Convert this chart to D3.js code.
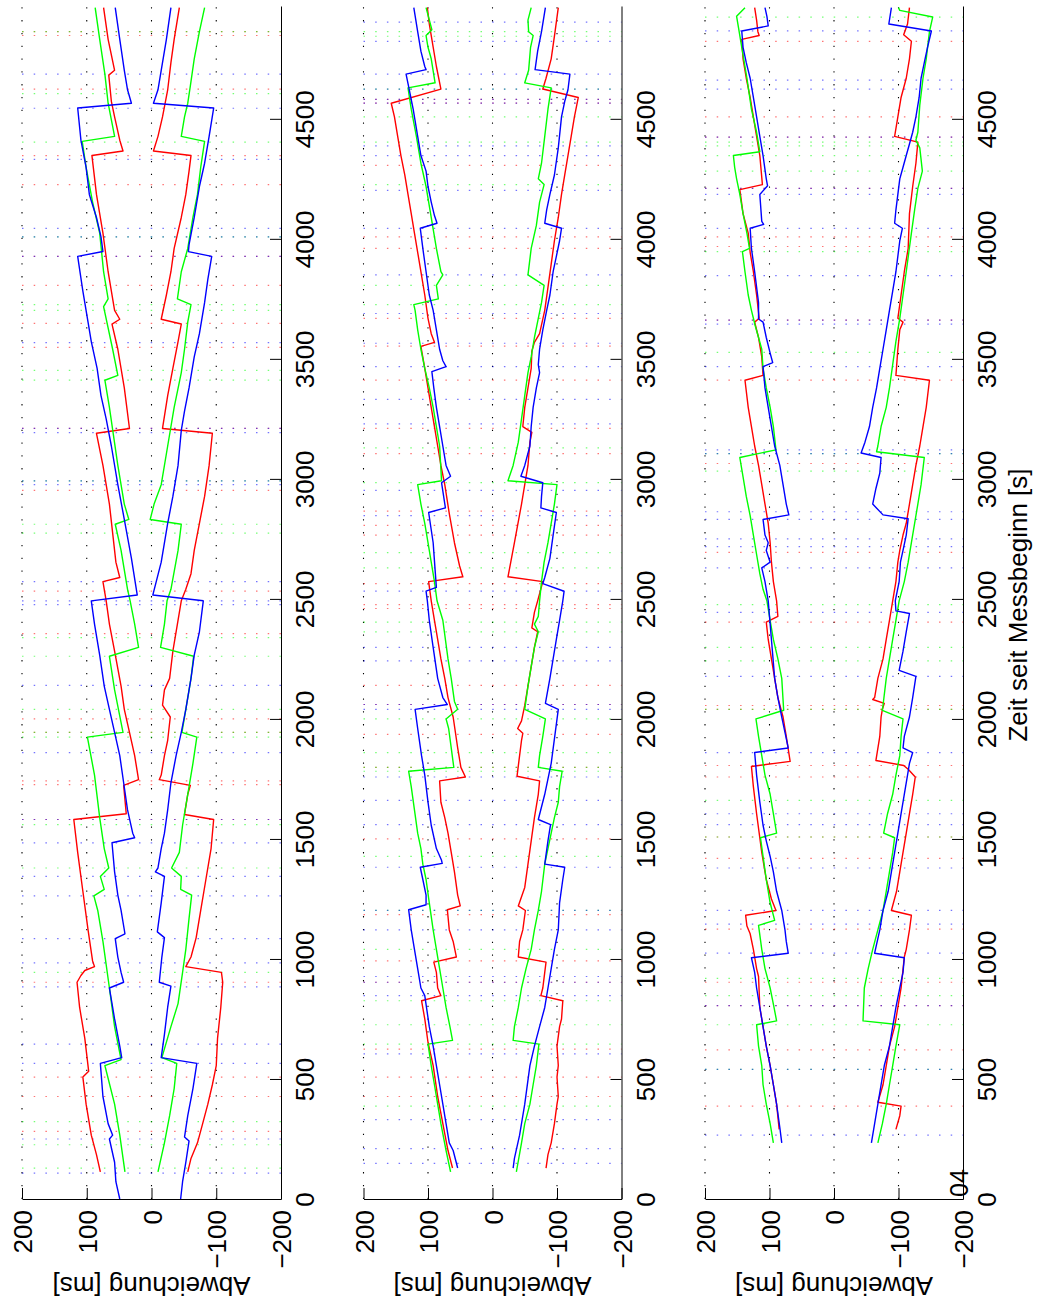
<!DOCTYPE html>
<html><head><meta charset="utf-8">
<script src="https://cdn.jsdelivr.net/npm/d3@7"></script>
<style>body{margin:0;background:#fff}svg{display:block}</style>
</head><body><svg id="c" width="1039" height="1305"></svg>
<script>
// ---------- tick labels / texts ----------
const timeTicks = [0,500,1000,1500,2000,2500,3000,3500,4000,4500];
const valueTicks = [200,100,0,-100,-200];
const valueTickLabels = ["200","100","0","\u2212100","\u2212200"];
const yLabel = "Abweichung [ms]";
const xLabel = "Zeit seit Messbeginn [s]";
const strayLabel = "04";

// ---------- subplot 1 : [time s, deviation ms] ----------
const s1BlueUp = [[0,49],[72,55],[153,57],[250,65],[266,60],[314,67],[427,75],[565,79],[589,46],[637,49],[750,57],[879,65],[903,43],[944,47],[1008,52],[1085,56],[1105,41],[1202,47],[1266,52],[1363,57],[1484,61],[1505,26],[1524,29],[1621,37],[1734,43],[1847,49],[1944,57],[2040,65],[2137,73],[2266,80],[2395,88],[2492,93],[2516,22],[2669,31],[2831,42],[2976,52],[3137,62],[3250,70],[3347,78],[3460,84],[3572,93],[3653,98],[3782,106],[3927,114],[3947,75],[4008,78],[4089,85],[4185,96],[4298,101],[4411,109],[4545,114],[4565,31],[4621,37],[4702,42],[4831,49],[4963,56]];
const s1BlueLo = [[0,-45],[72,-48],[153,-53],[242,-58],[258,-51],[347,-56],[460,-64],[565,-70],[589,-15],[686,-20],[799,-25],[887,-30],[903,-12],[1008,-16],[1089,-20],[1113,-9],[1234,-15],[1344,-20],[1363,-6],[1379,-10],[1460,-15],[1524,-20],[1621,-25],[1734,-30],[1847,-38],[1944,-46],[2040,-53],[2169,-61],[2266,-66],[2363,-74],[2492,-80],[2516,-2],[2653,-15],[2815,-25],[2927,-33],[3056,-41],[3202,-46],[3282,-51],[3379,-58],[3508,-66],[3605,-74],[3734,-82],[3831,-87],[3927,-93],[3947,-57],[3976,-58],[4089,-66],[4218,-74],[4315,-82],[4427,-89],[4545,-96],[4565,-3],[4621,-10],[4702,-15],[4831,-23],[4963,-30]];
const s1RedUp = [[113,79],[185,85],[266,93],[395,101],[508,106],[532,97],[669,103],[798,111],[903,115],[931,109],[952,103],[968,88],[992,91],[1121,98],[1282,106],[1444,114],[1581,120],[1605,39],[1723,43],[1747,20],[1847,26],[1944,34],[2040,42],[2137,47],[2282,57],[2395,65],[2492,70],[2572,75],[2589,49],[2653,55],[2895,65],[3056,75],[3190,85],[3210,34],[3379,42],[3540,52],[3645,61],[3665,49],[3702,57],[3863,67],[4024,75],[4185,85],[4347,92],[4366,44],[4411,49],[4508,57],[4573,62],[4682,66],[4702,57],[4831,67],[4963,74]];
const s1RedLo = [[113,-56],[169,-61],[234,-71],[314,-79],[395,-87],[476,-94],[556,-100],[669,-102],[798,-107],[903,-110],[944,-108],[968,-53],[1008,-61],[1089,-69],[1202,-76],[1331,-84],[1460,-92],[1581,-96],[1602,-51],[1686,-56],[1723,-60],[1747,-12],[1766,-15],[1847,-20],[1911,-25],[2008,-29],[2057,-17],[2121,-20],[2169,-28],[2282,-33],[2395,-40],[2492,-46],[2540,-53],[2605,-61],[2702,-66],[2815,-74],[2927,-82],[3056,-89],[3190,-94],[3210,-17],[3347,-25],[3460,-33],[3572,-41],[3645,-46],[3665,-15],[3766,-23],[3863,-30],[3960,-35],[4089,-46],[4185,-53],[4282,-58],[4347,-61],[4366,-3],[4427,-10],[4508,-17],[4621,-25],[4734,-30],[4831,-35],[4963,-43]];
const s1GreenUp = [[113,41],[266,49],[395,57],[556,72],[581,47],[718,57],[879,65],[1073,75],[1202,83],[1263,89],[1290,73],[1344,79],[1379,66],[1460,73],[1589,80],[1766,88],[1924,99],[1944,44],[2121,57],[2261,65],[2298,20],[2395,26],[2492,33],[2540,37],[2702,47],[2811,56],[2831,35],[2895,42],[3056,52],[3298,65],[3411,72],[3431,52],[3540,60],[3718,74],[3750,67],[3863,74],[4024,80],[4153,91],[4298,101],[4406,107],[4427,57],[4565,67],[4686,72],[4831,80],[4963,87]];
const s1GreenLo = [[113,-10],[234,-20],[347,-28],[460,-35],[565,-39],[589,-16],[718,-30],[814,-41],[944,-48],[1040,-53],[1169,-58],[1266,-62],[1290,-45],[1344,-46],[1379,-31],[1444,-43],[1557,-48],[1718,-58],[1815,-64],[1924,-70],[1944,-47],[2040,-53],[2169,-61],[2261,-65],[2298,-14],[2395,-20],[2492,-24],[2540,-30],[2702,-41],[2811,-46],[2831,2],[2895,-4],[2976,-15],[3137,-25],[3298,-35],[3443,-46],[3540,-51],[3653,-56],[3726,-61],[3750,-40],[3863,-46],[3960,-56],[4089,-64],[4185,-71],[4298,-76],[4406,-82],[4427,-46],[4508,-51],[4565,-56],[4637,-60],[4750,-66],[4863,-74],[4963,-82]];
const s1EvRed = [4863,4847,4624,4347,4226,3927,3806,3648,3548,3210,2952,2532,2355,2000,1944,1742,1726,1581,903,508,427,282];
const s1EvGreen = [4863,4605,4403,4008,3726,3702,3452,3411,2992,2811,2774,2339,2261,2040,1944,1924,1560,1379,944,322,226,129];
const s1EvBlue = [4686,4544,4331,4044,4008,3927,3568,3210,3193,2992,2976,2572,2492,2476,2140,1860,1581,1484,1344,1263,1085,984,884,645,565,250,108];

// ---------- subplot 2 ----------
const s2BlueUp = [[129,54],[202,61],[234,67],[314,72],[395,77],[476,82],[556,87],[637,92],[718,98],[847,105],[879,111],[960,116],[1040,121],[1121,126],[1205,130],[1226,103],[1266,103],[1331,108],[1382,112],[1398,78],[1411,79],[1460,87],[1557,95],[1653,100],[1766,105],[1847,110],[1960,116],[2040,120],[2060,70],[2089,77],[2169,85],[2298,92],[2411,98],[2492,101],[2532,103],[2548,87],[2621,89],[2734,92],[2860,99],[2879,73],[2984,79],[3011,65],[3056,72],[3137,77],[3218,82],[3298,87],[3379,91],[3447,94],[3468,72],[3492,77],[3540,82],[3621,87],[3702,92],[3766,98],[3863,103],[3960,108],[4044,112],[4065,86],[4097,90],[4153,95],[4218,100],[4282,103],[4347,111],[4427,116],[4540,123],[4621,129],[4686,134],[4705,103],[4718,105],[4782,111],[4863,116],[4963,122]];
const s2BlueLo = [[129,-32],[169,-34],[266,-42],[395,-50],[556,-58],[637,-65],[718,-73],[798,-81],[879,-86],[960,-91],[1040,-96],[1121,-102],[1234,-104],[1331,-109],[1382,-112],[1395,-81],[1492,-86],[1560,-90],[1581,-71],[1686,-81],[1815,-91],[2040,-102],[2065,-82],[2169,-89],[2250,-94],[2331,-99],[2411,-104],[2492,-109],[2532,-111],[2564,-78],[2589,-81],[2669,-89],[2766,-94],[2860,-99],[2879,-75],[2927,-76],[2984,-78],[3011,-44],[3056,-50],[3137,-58],[3218,-60],[3298,-63],[3379,-68],[3443,-73],[3476,-71],[3540,-73],[3621,-78],[3702,-84],[3766,-89],[3863,-94],[3927,-99],[3992,-104],[4044,-107],[4065,-81],[4121,-84],[4185,-89],[4266,-96],[4379,-102],[4508,-107],[4573,-112],[4621,-117],[4686,-120],[4705,-66],[4782,-70],[4863,-76],[4963,-82]];
const s2RedUp = [[129,62],[202,69],[314,77],[427,85],[556,92],[653,100],[750,105],[826,110],[847,80],[879,85],[944,87],[987,91],[1008,56],[1073,61],[1121,67],[1205,70],[1221,50],[1266,54],[1363,59],[1444,64],[1524,69],[1589,74],[1653,80],[1742,82],[1758,42],[1798,49],[1879,54],[2008,61],[2089,69],[2169,74],[2250,80],[2331,85],[2411,90],[2492,95],[2572,99],[2592,46],[2637,51],[2734,59],[2855,67],[2976,74],[3056,80],[3137,85],[3218,90],[3298,95],[3379,100],[3460,105],[3552,111],[3569,90],[3605,95],[3669,100],[3766,105],[3863,111],[3944,116],[4024,121],[4105,126],[4185,131],[4266,136],[4347,142],[4427,147],[4508,152],[4565,157],[4624,80],[4718,87],[4831,94],[4895,98],[4963,101]];
const s2RedLo = [[129,-83],[185,-86],[234,-91],[314,-96],[395,-100],[427,-102],[508,-100],[556,-102],[637,-100],[718,-104],[750,-107],[826,-109],[847,-75],[879,-78],[944,-81],[987,-83],[1008,-40],[1073,-42],[1121,-47],[1202,-51],[1221,-40],[1298,-50],[1395,-55],[1492,-60],[1589,-65],[1686,-71],[1742,-73],[1761,-38],[1847,-42],[1911,-45],[1940,-47],[1960,-39],[1992,-45],[2056,-50],[2137,-55],[2218,-60],[2298,-65],[2363,-70],[2379,-61],[2444,-65],[2492,-70],[2572,-78],[2592,-24],[2734,-34],[2895,-45],[2976,-50],[3056,-55],[3153,-58],[3194,-61],[3218,-47],[3298,-50],[3379,-55],[3460,-60],[3532,-61],[3569,-65],[3605,-73],[3702,-81],[3798,-86],[3895,-91],[3992,-96],[4089,-102],[4185,-107],[4266,-112],[4347,-117],[4427,-122],[4508,-127],[4589,-133],[4624,-78],[4669,-83],[4750,-91],[4863,-97],[4963,-102]];
const s2GreenUp = [[113,65],[202,72],[314,80],[395,85],[476,90],[556,95],[645,100],[661,62],[718,66],[798,72],[879,77],[960,82],[1040,87],[1121,92],[1234,98],[1331,103],[1395,108],[1460,111],[1524,116],[1621,121],[1718,126],[1782,130],[1798,60],[1879,64],[1960,68],[2000,72],[2040,54],[2073,59],[2169,64],[2250,69],[2411,77],[2492,86],[2572,90],[2653,95],[2734,100],[2815,105],[2895,111],[2976,116],[2992,79],[3137,82],[3218,87],[3298,92],[3379,98],[3460,105],[3540,111],[3621,116],[3702,120],[3726,122],[3750,84],[3806,87],[3850,77],[3863,80],[3960,87],[4089,95],[4218,103],[4315,111],[4427,118],[4540,126],[4629,131],[4650,89],[4750,95],[4798,100],[4847,103],[4871,94],[4963,103]];
const s2GreenLo = [[113,-37],[234,-45],[314,-50],[395,-58],[476,-63],[556,-68],[645,-72],[661,-32],[718,-34],[798,-40],[879,-45],[960,-52],[1040,-60],[1121,-65],[1202,-71],[1282,-76],[1395,-81],[1460,-86],[1524,-91],[1589,-96],[1653,-102],[1718,-104],[1782,-108],[1798,-71],[1847,-73],[1927,-78],[2000,-82],[2040,-50],[2137,-55],[2218,-60],[2298,-65],[2363,-71],[2395,-65],[2427,-71],[2492,-73],[2572,-76],[2653,-80],[2734,-86],[2815,-91],[2895,-96],[2976,-100],[2992,-24],[3056,-32],[3153,-40],[3250,-45],[3347,-50],[3443,-55],[3508,-60],[3589,-65],[3669,-71],[3734,-76],[3806,-80],[3850,-55],[3960,-60],[4056,-68],[4153,-73],[4226,-80],[4250,-71],[4315,-76],[4427,-81],[4540,-86],[4629,-91],[4650,-50],[4702,-56],[4798,-59],[4847,-63],[4863,-56],[4911,-55],[4963,-60]];
const s2EvRed = [4581,4565,4306,4008,3960,3669,3553,3411,3210,3105,2866,2806,2766,2564,2476,2460,2140,2060,1936,1798,1500,1185,992,903,624,508,427];
const s2EvGreen = [4863,4844,4624,4508,4403,4226,3806,3726,3129,2984,2693,2629,2403,2363,2000,1860,1798,1782,1427,1202,1040,826,726,645,387];
const s2EvBlue = [4903,4823,4686,4624,4581,4565,4387,4347,4202,4044,3850,3689,3565,3468,3331,3229,2952,2847,2532,2298,2242,2060,2040,1758,1661,1560,1382,1202,1121,927,903,847,605,331,210,148];

// ---------- subplot 3 ----------
const s3BlueUp = [[234,81],[298,84],[395,89],[476,94],[556,99],[637,105],[718,110],[798,115],[879,120],[944,123],[1005,128],[1024,71],[1073,74],[1121,76],[1202,81],[1282,89],[1363,94],[1427,99],[1492,105],[1557,110],[1653,115],[1766,120],[1860,123],[1879,71],[1944,76],[2008,81],[2089,87],[2169,92],[2331,97],[2492,102],[2572,107],[2629,112],[2653,99],[2702,105],[2734,102],[2766,107],[2831,110],[2850,70],[2895,74],[2976,79],[3056,84],[3137,92],[3218,97],[3298,102],[3379,107],[3468,110],[3484,95],[3524,99],[3589,105],[3653,110],[3666,117],[3734,117],[3863,123],[3960,128],[4044,130],[4060,109],[4073,112],[4185,115],[4221,103],[4250,105],[4347,110],[4427,115],[4508,120],[4589,125],[4669,130],[4734,136],[4798,141],[4866,143],[4887,102],[4927,104],[4963,107]];
const s3BlueLo = [[234,-58],[314,-63],[395,-68],[476,-73],[556,-78],[637,-86],[718,-91],[798,-96],[879,-102],[944,-107],[1005,-109],[1024,-63],[1121,-71],[1202,-76],[1282,-84],[1363,-89],[1444,-94],[1524,-99],[1605,-104],[1686,-109],[1766,-114],[1815,-117],[1860,-122],[1879,-107],[1927,-109],[2008,-117],[2089,-122],[2177,-127],[2202,-101],[2282,-107],[2363,-112],[2439,-117],[2450,-96],[2492,-95],[2572,-101],[2653,-103],[2702,-107],[2766,-112],[2834,-115],[2850,-76],[2895,-60],[2960,-65],[3024,-71],[3089,-73],[3108,-42],[3153,-48],[3218,-55],[3298,-60],[3379,-66],[3460,-71],[3540,-76],[3621,-81],[3702,-86],[3782,-91],[3863,-96],[3992,-102],[4044,-106],[4065,-94],[4121,-96],[4185,-99],[4250,-102],[4298,-107],[4347,-112],[4395,-117],[4444,-122],[4508,-127],[4589,-132],[4669,-135],[4734,-140],[4798,-145],[4866,-151],[4895,-85],[4963,-89]];
const s3RedUp = [[290,85],[395,89],[476,94],[556,99],[637,105],[718,110],[798,115],[927,117],[960,120],[1040,125],[1105,130],[1137,135],[1182,137],[1202,90],[1250,97],[1331,105],[1444,112],[1605,120],[1718,125],[1802,128],[1823,68],[1927,74],[2008,79],[2089,87],[2169,92],[2250,97],[2331,102],[2403,105],[2427,87],[2492,89],[2572,94],[2653,97],[2734,99],[2815,102],[2895,107],[2976,112],[3056,117],[3137,123],[3218,128],[3298,133],[3411,138],[3431,110],[3508,112],[3589,117],[3653,123],[3669,116],[3766,120],[3863,125],[3944,130],[4024,133],[4105,141],[4205,146],[4226,111],[4347,115],[4427,120],[4508,125],[4589,130],[4669,136],[4750,141],[4831,143],[4847,116],[4863,118],[4911,120],[4963,123]];
const s3RedLo = [[290,-96],[347,-102],[387,-104],[403,-68],[476,-76],[556,-81],[637,-86],[718,-94],[798,-99],[879,-104],[1008,-109],[1040,-112],[1121,-117],[1182,-120],[1202,-89],[1282,-97],[1363,-102],[1444,-107],[1524,-112],[1605,-117],[1686,-122],[1758,-126],[1790,-115],[1806,-108],[1827,-65],[1927,-71],[2008,-73],[2040,-75],[2065,-78],[2081,-60],[2089,-63],[2169,-68],[2250,-76],[2331,-81],[2411,-86],[2492,-91],[2572,-96],[2653,-99],[2702,-102],[2766,-107],[2815,-112],[2895,-117],[2976,-122],[3056,-127],[3137,-133],[3218,-138],[3298,-143],[3411,-148],[3431,-96],[3540,-99],[3621,-102],[3653,-107],[3669,-99],[3766,-104],[3863,-109],[3960,-115],[4105,-117],[4218,-122],[4315,-127],[4403,-130],[4427,-94],[4508,-99],[4589,-104],[4669,-112],[4750,-117],[4823,-120],[4850,-108],[4895,-114],[4963,-117]];
const s3GreenUp = [[234,94],[314,99],[395,105],[476,110],[556,112],[637,117],[726,120],[742,89],[798,93],[879,99],[960,107],[1040,112],[1140,117],[1161,92],[1234,99],[1331,105],[1427,110],[1505,114],[1524,89],[1605,94],[1686,99],[1766,107],[1847,112],[1927,117],[2000,121],[2036,78],[2169,81],[2250,87],[2331,94],[2411,99],[2492,104],[2540,110],[2605,115],[2685,120],[2766,125],[2847,130],[2927,136],[3008,141],[3089,146],[3121,90],[3218,94],[3298,99],[3379,105],[3460,110],[3540,112],[3589,117],[3637,122],[3702,128],[3766,133],[3863,138],[3947,142],[3960,131],[4024,135],[4105,141],[4185,146],[4250,151],[4298,154],[4347,156],[4363,115],[4444,120],[4540,128],[4669,135],[4798,143],[4879,148],[4927,151],[4963,138]];
const s3GreenLo = [[234,-68],[314,-75],[395,-81],[476,-86],[556,-91],[637,-96],[726,-102],[742,-45],[879,-47],[960,-53],[1040,-60],[1121,-68],[1202,-76],[1282,-81],[1363,-86],[1444,-91],[1505,-94],[1524,-77],[1605,-83],[1686,-91],[1766,-96],[1847,-102],[1927,-104],[2000,-107],[2036,-75],[2057,-76],[2169,-81],[2250,-86],[2331,-91],[2411,-96],[2492,-101],[2572,-109],[2653,-115],[2734,-120],[2815,-125],[2895,-130],[2976,-135],[3089,-140],[3113,-66],[3137,-68],[3218,-73],[3298,-81],[3379,-86],[3476,-91],[3573,-96],[3669,-102],[3766,-107],[3863,-112],[3944,-116],[4024,-120],[4121,-125],[4210,-130],[4282,-137],[4379,-133],[4411,-127],[4444,-130],[4557,-133],[4669,-138],[4750,-143],[4863,-148],[4924,-153],[4952,-102],[4963,-100]];
const s3EvRed = [4823,4508,4424,4210,4008,3968,3661,3411,3064,2694,2403,2056,2040,1806,1758,1508,1419,1124,903,806,621,387];
const s3EvGreen = [4924,4403,4387,4347,4282,3947,3527,3105,3032,2476,2298,2242,2040,1661,1508,919,847,726,540];
const s3EvBlue = [4866,4661,4624,4424,4210,4185,4044,3847,3661,3645,3468,3121,3105,2863,2831,2750,2718,2629,2444,2177,1860,1605,1560,1379,1202,1145,1024,806,540,266];

// ---------- assemble ----------
const colors = {red:"#ff0000", green:"#00ff00", blue:"#0000ff"};
const panels = [
  {lines:{red:[s1RedUp,s1RedLo],green:[s1GreenUp,s1GreenLo],blue:[s1BlueUp,s1BlueLo]}, events:{red:s1EvRed,green:s1EvGreen,blue:s1EvBlue}},
  {lines:{red:[s2RedUp,s2RedLo],green:[s2GreenUp,s2GreenLo],blue:[s2BlueUp,s2BlueLo]}, events:{red:s2EvRed,green:s2EvGreen,blue:s2EvBlue}},
  {lines:{red:[s3RedUp,s3RedLo],green:[s3GreenUp,s3GreenLo],blue:[s3BlueUp,s3BlueLo]}, events:{red:s3EvRed,green:s3EvGreen,blue:s3EvBlue}}
];

const FONT = "'Liberation Sans', Arial, Helvetica, sans-serif";
const FS = 26;
const panelX = [[22,281],[363.5,621.5],[705,963]];
const svg = d3.select("#c");
const yT = d3.scaleLinear().domain([0,4970]).range([1199,6]);
const T0 = yT(0), T1 = yT(4970);

panels.forEach((p,i)=>{
  const [x0,x1] = panelX[i];
  const xs = d3.scaleLinear().domain([200,-200]).range([x0,x1]);
  const g = svg.append("g");
  // value grid (dotted)
  g.selectAll(null).data([200,100,0,-100]).join("line")
    .attr("x1",d=>xs(d)).attr("x2",d=>xs(d)).attr("y1",T0).attr("y2",T1)
    .attr("stroke","#000").attr("stroke-width",1.1).attr("stroke-dasharray","1.3 11.5");
  // event markers (dotted)
  ["red","green","blue"].forEach(c=>{
    g.selectAll(null).data(p.events[c]).join("line")
      .attr("x1",x0).attr("x2",x1).attr("y1",d=>yT(d)).attr("y2",d=>yT(d))
      .attr("stroke",colors[c]).attr("stroke-opacity",0.55).attr("stroke-width",1.2)
      .attr("stroke-dasharray","1.5 10.2");
  });
  // data lines
  const line = d3.line().x(d=>xs(d[1])).y(d=>yT(d[0]));
  ["red","green","blue"].forEach(c=>{
    p.lines[c].forEach(arr=>{
      g.append("path").datum(arr).attr("d",line).attr("fill","none")
        .attr("stroke",colors[c]).attr("stroke-width",1.4).attr("stroke-linejoin","round");
    });
  });
  // time axis (right side)
  const ga = svg.append("g").attr("transform",`translate(${x1},0)`)
    .call(d3.axisRight(yT).tickValues(timeTicks).tickSizeInner(-11).tickSizeOuter(0).tickFormat(d=>String(d)));
  ga.attr("font-size",FS).attr("font-family",FONT);
  ga.select(".domain").attr("stroke","#000");
  ga.selectAll(".tick line").attr("stroke","#000");
  ga.selectAll(".tick text").attr("x",0).attr("dy",0).attr("fill","#000")
    .attr("text-anchor","middle").attr("transform","translate(33,0) rotate(-90)");
  // value axis (bottom)
  const gb = svg.append("g").attr("transform",`translate(0,${T0})`)
    .call(d3.axisBottom(xs).tickValues(valueTicks).tickSizeInner(-11).tickSizeOuter(0).tickFormat((d,j)=>valueTickLabels[j]));
  gb.attr("font-size",FS).attr("font-family",FONT);
  gb.select(".domain").attr("stroke","#000");
  gb.selectAll(".tick line").attr("stroke","#000");
  gb.selectAll(".tick text").attr("y",0).attr("dy",0).attr("fill","#000")
    .attr("text-anchor","end").attr("transform","translate(9.5,11) rotate(-90)");
  // y label (upside down)
  svg.append("text").attr("transform",`translate(${(x0+x1)/2},1277) rotate(180)`)
    .attr("text-anchor","middle").attr("font-family",FONT).attr("font-size",FS).text(yLabel);
});

svg.append("text").attr("transform",`translate(1027,605) rotate(-90)`)
  .attr("text-anchor","middle").attr("font-family",FONT).attr("font-size",FS).text(xLabel);
svg.append("text").attr("transform",`translate(968,1197) rotate(-90)`)
  .attr("text-anchor","start").attr("font-family",FONT).attr("font-size",25).text(strayLabel);
</script></body></html>
